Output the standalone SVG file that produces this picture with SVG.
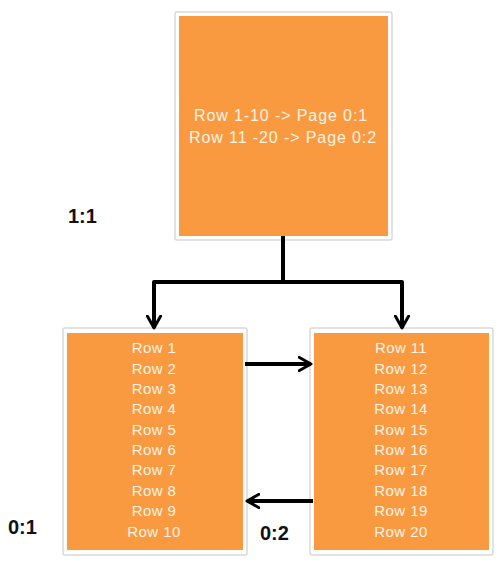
<svg xmlns="http://www.w3.org/2000/svg" width="503" height="562" viewBox="0 0 503 562">
<style>
.frame{fill:#ffffff;stroke:#d9d9d9;stroke-width:1.5}
.box{fill:#fa9a40}
.t{font-family:"Liberation Sans",Arial,sans-serif;fill:#fdf3e6;text-anchor:middle}
.rt{font-size:15px;letter-spacing:0.4px}
.tt{font-size:16px;letter-spacing:0.9px}
.lbl{font-family:"Liberation Sans",Arial,sans-serif;font-weight:bold;font-size:20px;fill:#111}
.c{fill:none;stroke:#000;stroke-width:4;stroke-linejoin:round}
</style>
<defs>
<marker id="ah" viewBox="0 0 12 12" refX="10" refY="6" markerWidth="4" markerHeight="4" orient="auto" markerUnits="strokeWidth">
<path d="M1,1 L10,6 L1,11" fill="none" stroke="#000" stroke-width="2.2" stroke-linecap="round" stroke-linejoin="round"/>
</marker>
</defs>
<rect width="503" height="562" fill="#ffffff"/>
<g id="root">
<rect class="frame" x="175" y="12" width="217" height="228" rx="2"/>
<rect class="box" x="179" y="16" width="209" height="220"/>
<text class="t tt" x="281" y="121">Row 1-10 -&gt; Page 0:1</text>
<text class="t tt" x="283" y="143">Row 11 -20 -&gt; Page 0:2</text>
</g>
<g id="page01">
<rect class="frame" x="63" y="328" width="184" height="227" rx="2"/>
<rect class="box" x="67" y="333" width="176" height="217"/>
<g class="t rt">
<text x="154" y="353">Row 1</text>
<text x="154" y="374">Row 2</text>
<text x="154" y="394">Row 3</text>
<text x="154" y="414">Row 4</text>
<text x="154" y="435">Row 5</text>
<text x="154" y="455">Row 6</text>
<text x="154" y="475">Row 7</text>
<text x="154" y="496">Row 8</text>
<text x="154" y="516">Row 9</text>
<text x="154" y="537">Row 10</text>
</g>
</g>
<g id="page02">
<rect class="frame" x="310" y="328" width="183" height="227" rx="2"/>
<rect class="box" x="314" y="333" width="175" height="217"/>
<g class="t rt">
<text x="401" y="353">Row 11</text>
<text x="401" y="374">Row 12</text>
<text x="401" y="394">Row 13</text>
<text x="401" y="414">Row 14</text>
<text x="401" y="435">Row 15</text>
<text x="401" y="455">Row 16</text>
<text x="401" y="475">Row 17</text>
<text x="401" y="496">Row 18</text>
<text x="401" y="516">Row 19</text>
<text x="401" y="537">Row 20</text>
</g>
</g>
<g id="labels">
<text class="lbl" x="68" y="223">1:1</text>
<text class="lbl" x="8" y="534">0:1</text>
<text class="lbl" x="260" y="540">0:2</text>
</g>
<g id="connectors">
<path class="c" d="M283,236 V282 H154 V328" marker-end="url(#ah)"/>
<path class="c" d="M283,282 H402 V328" marker-end="url(#ah)"/>
<path class="c" d="M245,364 H311" marker-end="url(#ah)"/>
<path class="c" d="M313,501 H247" marker-end="url(#ah)"/>
</g>
</svg>
